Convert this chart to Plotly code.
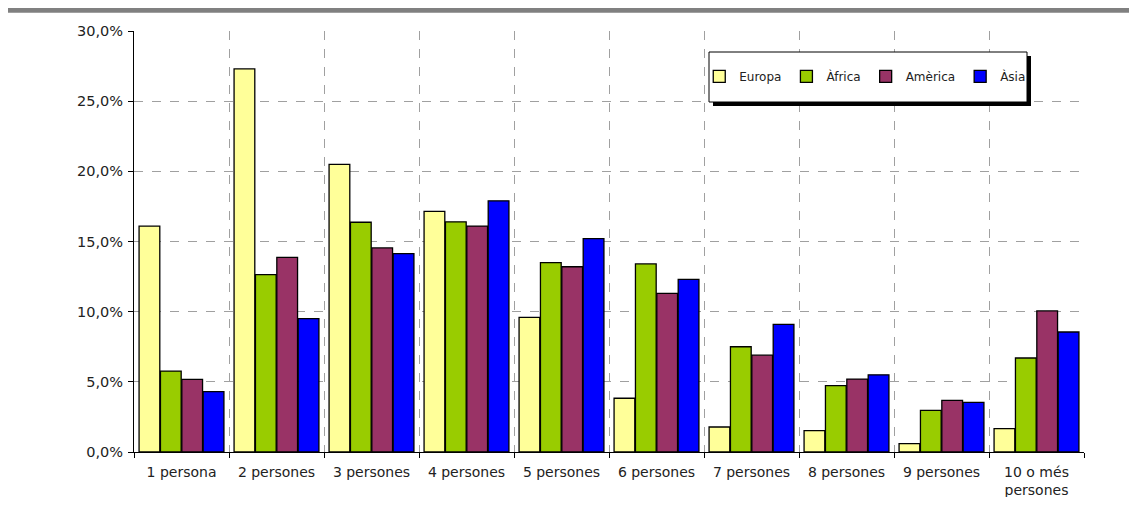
import plotly.graph_objects as go

# categories (tamany de la llar)
categories = ["1 persona", "2 persones", "3 persones", "4 persones", "5 persones",
              "6 persones", "7 persones", "8 persones", "9 persones", "10 o més<br>persones"]

europa = [16.1, 27.3, 20.5, 17.15, 9.6, 3.83, 1.78, 1.52, 0.59, 1.66]
africa = [5.77, 12.64, 16.37, 16.4, 13.5, 13.4, 7.5, 4.73, 2.97, 6.7]
america = [5.18, 13.87, 14.54, 16.1, 13.2, 11.3, 6.9, 5.2, 3.68, 10.05]
asia = [4.3, 9.5, 14.13, 17.9, 15.2, 12.3, 9.1, 5.5, 3.54, 8.55]

series = [("Europa", europa, "#FFFF99"),
          ("Àfrica", africa, "#99CC00"),
          ("Amèrica", america, "#993366"),
          ("Àsia", asia, "#0000FF")]

fig = go.Figure()
for name, vals, col in series:
    fig.add_trace(go.Bar(x=categories, y=vals, name=name,
                         marker=dict(color=col, line=dict(color="black", width=1.3))))

grid = dict(showgrid=True, gridcolor="#a0a0a0", griddash="dash", gridwidth=1)

# la pàgina té 8px de marge al body, per això la figura és 16px més petita
fig.update_layout(
    width=1121, height=489,
    margin=dict(l=126, r=45, t=23, b=45, autoexpand=False),
    paper_bgcolor="white", plot_bgcolor="white",
    font=dict(family="DejaVu Sans, Verdana, sans-serif", size=13, color="#222"),
    separators=", ",
    barmode="group", bargap=0.1, bargroupgap=0.03,
    showlegend=True,
    legend=dict(orientation="h", x=0.595, y=0.892, xanchor="left", yanchor="middle",
                bgcolor="rgba(0,0,0,0)", font=dict(size=12),
                itemwidth=30, tracegroupgap=0),
    xaxis=dict(type="category", tickson="boundaries", ticks="outside", ticklen=5,
               tickcolor="black", showline=True, linecolor="black", linewidth=1,
               tickfont=dict(size=14), ticklabelstandoff=7,
               **grid),
    yaxis=dict(range=[0, 30], dtick=5, tickformat=".1f", ticksuffix="%",
               ticks="outside", ticklen=5, tickcolor="black",
               showline=True, linecolor="black", linewidth=1, zeroline=False,
               tickfont=dict(size=14.5), ticklabelstandoff=2,
               **grid),
    shapes=[
        # barra grisa superior
        dict(type="rect", xref="paper", yref="paper",
             x0=-0.14, x1=1.06, y0=(444 - 4.7) / 421, y1=444 / 421,
             fillcolor="#808080", line=dict(width=0), layer="above"),
        # ombra de la llegenda
        dict(type="rect", xref="paper", yref="paper",
             x0=579 / 950, x1=897 / 950, y0=346 / 421, y1=396 / 421,
             fillcolor="black", line=dict(width=0), layer="above"),
        # caixa de la llegenda
        dict(type="rect", xref="paper", yref="paper",
             x0=575 / 950, x1=893 / 950, y0=350 / 421, y1=400 / 421,
             fillcolor="white", line=dict(color="black", width=1), layer="above"),
    ],
)

fig.write_html("out.html")
